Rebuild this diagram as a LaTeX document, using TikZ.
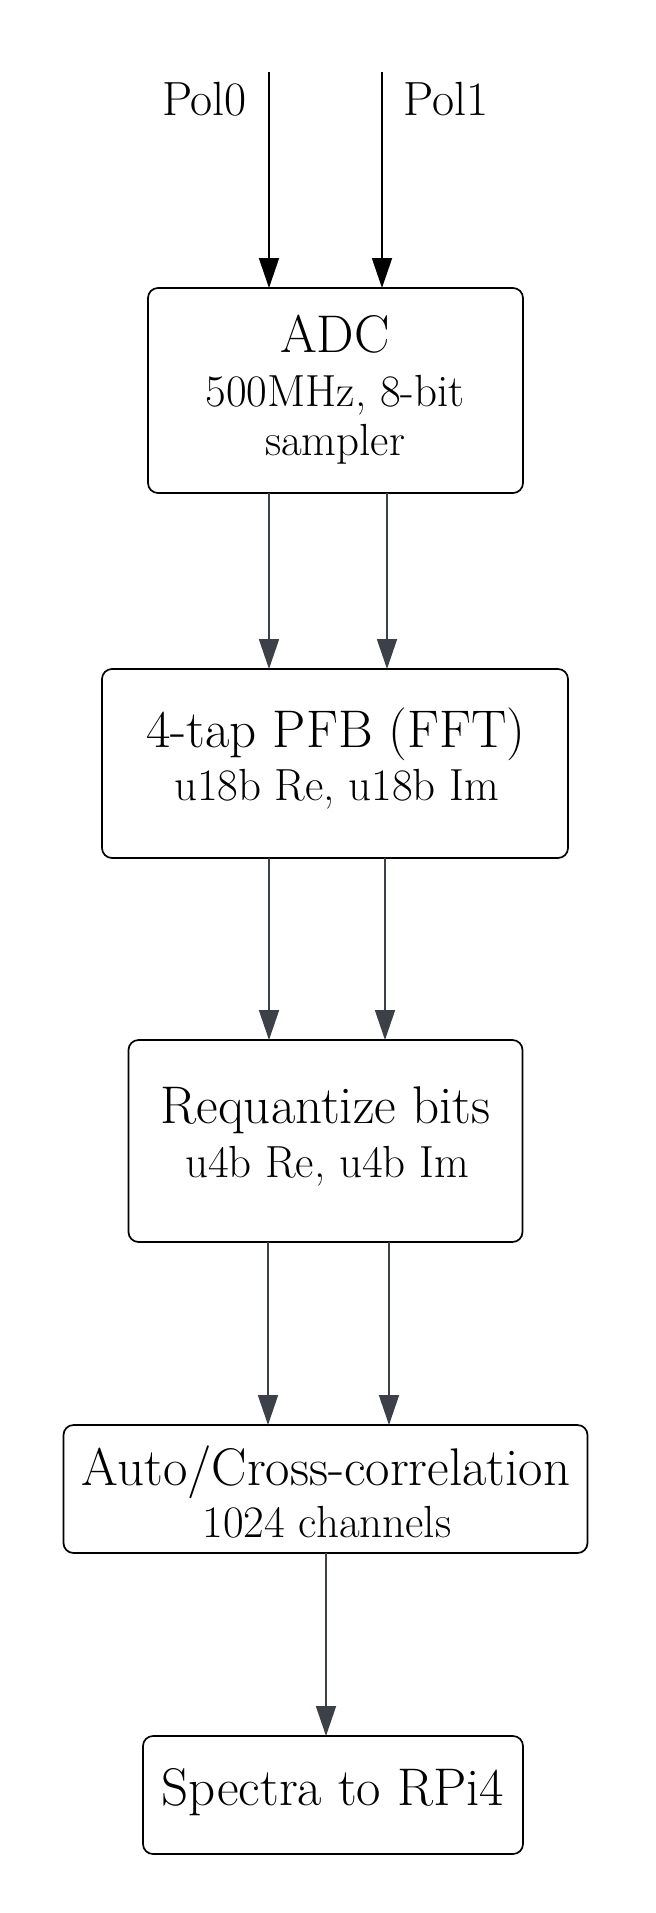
\documentclass[tikz,border=0pt]{standalone}
\usetikzlibrary{arrows.meta}
\definecolor{arrgray}{RGB}{59,64,73}
\begin{document}
\begin{tikzpicture}[x=0.5pt,y=-0.5pt,
  box/.style={draw=black, line width=0.85pt, rounded corners=5pt, inner sep=0pt, outer sep=0pt},
  ttl/.style={anchor=base, inner sep=0pt, font=\fontsize{26.5}{31}\selectfont},
  sub/.style={anchor=base, inner sep=0pt, font=\fontsize{22.5}{27}\selectfont},
  pol/.style={anchor=base, inner sep=0pt, font=\fontsize{24}{29}\selectfont},
  blk/.style={draw=black, line width=0.9pt, -{Triangle[length=15pt,width=10pt]}},
  gry/.style={draw=arrgray, line width=0.9pt, -{Triangle[length=15pt,width=10pt]}, color=arrgray}]
\useasboundingbox[fill=white] (0,0) rectangle (656,1913);

% boxes
\node[box, minimum width=187.5pt, minimum height=102.5pt] (adc) at (335.5,390.5) {};
\node[box, minimum width=233pt, minimum height=94.5pt] (pfb) at (335,763.5) {};
\node[box, minimum width=197pt, minimum height=101pt] (req) at (325.5,1141) {};
\node[box, minimum width=262pt, minimum height=64pt] (auto) at (325.5,1489) {};
\node[box, minimum width=190pt, minimum height=59pt] (spec) at (333,1795) {};

% texts
\node[pol] (pol0) at (204.5,115) {Pol0};
\node[pol] (pol1) at (446,115) {Pol1};
\node[ttl] (adct) at (335,352) {ADC};
\node[sub] (adcs1) at (335,406) {500MHz, 8-bit};
\node[sub] (adcs2) at (335,455) {sampler};
\node[ttl] (pfbt) at (336,747) {4-tap PFB (FFT)};
\node[sub] (pfbs) at (336.5,800) {u18b Re, u18b Im};
\node[ttl] (reqt) at (325.5,1123) {Requantize bits};
\node[sub] (reqs) at (327,1177) {u4b Re, u4b Im};
\node[ttl] (autot) at (326,1485) {Auto/Cross-correlation};
\node[sub] (autos) at (327,1537.5) {1024 channels};
\node[ttl] (spect) at (333,1805) {Spectra to RPi4};

% x positions of connectors
\coordinate (p0s) at (269,72);
\coordinate (p1s) at (382,72);
\coordinate (xa) at (269,0);
\coordinate (xb) at (387,0);
\coordinate (xc) at (385,0);
\coordinate (xd) at (268,0);
\coordinate (xe) at (389,0);
\coordinate (xf) at (326,0);

% connectors
\draw[blk] (p0s) -- (adc.north -| p0s);
\draw[blk] (p1s) -- (adc.north -| p1s);
\draw[gry] (adc.south -| xa) -- (pfb.north -| xa);
\draw[gry] (adc.south -| xb) -- (pfb.north -| xb);
\draw[gry] (pfb.south -| xa) -- (req.north -| xa);
\draw[gry] (pfb.south -| xc) -- (req.north -| xc);
\draw[gry] (req.south -| xd) -- (auto.north -| xd);
\draw[gry] (req.south -| xe) -- (auto.north -| xe);
\draw[gry] (auto.south -| xf) -- (spec.north -| xf);
\end{tikzpicture}
\end{document}
